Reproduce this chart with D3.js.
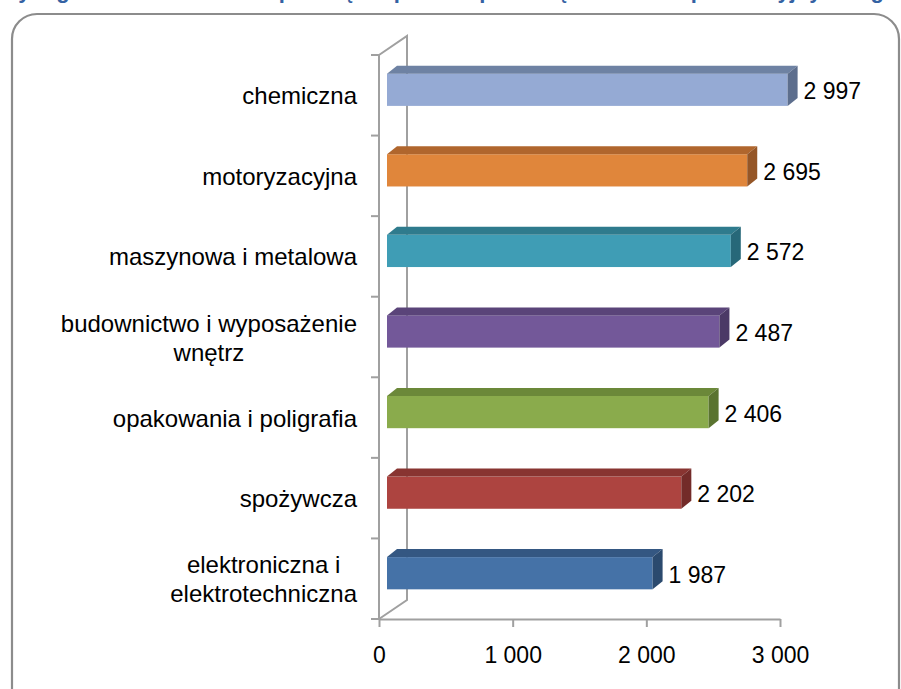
<!DOCTYPE html>
<html>
<head>
<meta charset="utf-8">
<script src="https://cdn.jsdelivr.net/npm/d3@7"></script>
<style>
  body { margin: 0; background: #fff; }
  svg { display: block; }
</style>
</head>
<body>
<div id="wrapper"></div>
<script>
// data, top to bottom as drawn
const categories = ["chemiczna", "motoryzacyjna", "maszynowa i metalowa", "budownictwo i wyposażenie wnętrz",
  "opakowania i poligrafia", "spożywcza", "elektroniczna i elektrotechniczna"];
const labelLines = [["chemiczna"], ["motoryzacyjna"], ["maszynowa i metalowa"], ["budownictwo i wyposażenie", "wnętrz"],
  ["opakowania i poligrafia"], ["spożywcza"], ["elektroniczna i", "elektrotechniczna"]];
const values = [2997, 2695, 2572, 2487, 2406, 2202, 1987];
const frontColors = ["#95aad4", "#e0863b", "#3f9db5", "#735899", "#8aab4c", "#ad4440", "#4572a7"];
const topColors = ["#6e82a3", "#b0662d", "#2f7b8d", "#5a4479", "#6b8839", "#883431", "#345782"];
const sideColors = ["#5d6e8d", "#955627", "#276879", "#4b3966", "#5a7330", "#732b29", "#2b4a6e"];
const tickValues = [0, 1000, 2000, 3000];
const title = "Wynagrodzenie całkowite: przeciętna płaca w przedsiębiorstwach produkcyjnych wg branży odbiorczej";

const width = 901;
const height = 689;

const dimensions = {
  left: 379,
  right: 780,
  top: 55,
  bottom: 619,
  depthX: 28,
  depthY: -19,
};

const locale = d3.formatLocale({ decimal: ",", thousands: "\u00a0", grouping: [3], currency: ["", ""] });
const fmt = locale.format(",d");

const svg = d3.select("#wrapper")
  .append("svg")
  .attr("width", width)
  .attr("height", height);

// title, mostly above the visible area
svg.append("text")
  .attr("x", -2)
  .attr("y", -2)
  .attr("fill", "#3462a3")
  .style("font-family", "Liberation Sans, Arial, sans-serif")
  .style("font-weight", "bold")
  .style("font-size", "22px")
  .text(title);

// chart frame
svg.append("rect")
  .attr("x", 12)
  .attr("y", 14)
  .attr("width", 887)
  .attr("height", 700)
  .attr("rx", 25)
  .attr("fill", "none")
  .attr("stroke", "#8c8c8c")
  .attr("stroke-width", 2.2);

const xScale = d3.scaleLinear()
  .domain([0, 3000])
  .range([dimensions.left, dimensions.right]);

const yScale = d3.scaleBand()
  .domain(categories)
  .range([dimensions.top, dimensions.bottom])
  .paddingInner(0.6)
  .paddingOuter(0.3);

const gridColor = "#a0a0a0";
const frame = svg.append("g")
  .attr("stroke", gridColor)
  .attr("stroke-width", 2)
  .attr("fill", "none");

// back wall edge and floor diagonals
const dx = dimensions.depthX, dy = dimensions.depthY;
frame.append("path")
  .attr("d", `M${dimensions.left},${dimensions.top} L${dimensions.left + dx},${dimensions.top + dy}
    L${dimensions.left + dx},${dimensions.bottom + dy} L${dimensions.left},${dimensions.bottom}`);

// front vertical axis
frame.append("line")
  .attr("x1", dimensions.left).attr("x2", dimensions.left)
  .attr("y1", dimensions.top).attr("y2", dimensions.bottom);

// category boundary ticks
const boundaries = d3.range(categories.length + 1).map(i => dimensions.top + i * yScale.step());
frame.selectAll(".ytick")
  .data(boundaries)
  .join("line")
  .attr("x1", dimensions.left - 8).attr("x2", dimensions.left)
  .attr("y1", d => d).attr("y2", d => d);

// bottom axis
const xAxisGenerator = d3.axisBottom(xScale)
  .tickValues(tickValues)
  .tickSizeInner(8)
  .tickSizeOuter(0)
  .tickFormat(fmt);

const xAxis = svg.append("g")
  .attr("transform", `translate(0, ${dimensions.bottom})`)
  .call(xAxisGenerator);
xAxis.select(".domain").attr("stroke", gridColor).attr("stroke-width", 2);
xAxis.selectAll(".tick line").attr("stroke", gridColor).attr("stroke-width", 2);
xAxis.selectAll(".tick text")
  .attr("y", 44)
  .attr("dy", 0)
  .attr("fill", "#000")
  .style("font-family", "Liberation Sans, Arial, sans-serif")
  .style("font-size", "23px");

// 3d bars
const barShiftX = 8;
const barShiftY = -5.5;
const barDepthX = 10;
const barDepthY = -8;

const bars = svg.append("g")
  .selectAll("g")
  .data(categories)
  .join("g");

bars.each(function (cat, i) {
  const g = d3.select(this);
  const x0 = xScale(0) + barShiftX;
  const x1 = xScale(values[i]) + barShiftX;
  const y0 = yScale(cat) + barShiftY;
  const h = yScale.bandwidth();
  g.append("rect")
    .attr("x", x0).attr("y", y0)
    .attr("width", x1 - x0).attr("height", h)
    .attr("fill", frontColors[i]);
  g.append("path")
    .attr("d", `M${x0},${y0} L${x0 + barDepthX},${y0 + barDepthY} L${x1 + barDepthX},${y0 + barDepthY} L${x1},${y0} Z`)
    .attr("fill", topColors[i]);
  g.append("path")
    .attr("d", `M${x1},${y0} L${x1 + barDepthX},${y0 + barDepthY} L${x1 + barDepthX},${y0 + h + barDepthY} L${x1},${y0 + h} Z`)
    .attr("fill", sideColors[i]);
  g.append("text")
    .attr("x", x1 + 16)
    .attr("y", y0 + h / 2 + 9.5)
    .attr("fill", "#000")
    .style("font-family", "Liberation Sans, Arial, sans-serif")
    .style("font-size", "23px")
    .text(fmt(values[i]));
});

// category labels, lines centred within the block, block right-aligned
const labelRight = 357;
const lineGap = 29;
categories.forEach((cat, i) => {
  const lines = labelLines[i];
  const center = yScale(cat) + yScale.bandwidth() / 2;
  const g = svg.append("g")
    .style("font-family", "Liberation Sans, Arial, sans-serif")
    .style("font-size", "24px")
    .attr("fill", "#000");
  const texts = lines.map((line, j) => g.append("text")
    .attr("y", center + 9 + (j - (lines.length - 1) / 2) * lineGap)
    .attr("text-anchor", "middle")
    .text(line));
  const maxW = d3.max(texts, t => t.node().getComputedTextLength());
  texts.forEach(t => t.attr("x", labelRight - maxW / 2));
});
</script>
</body>
</html>
